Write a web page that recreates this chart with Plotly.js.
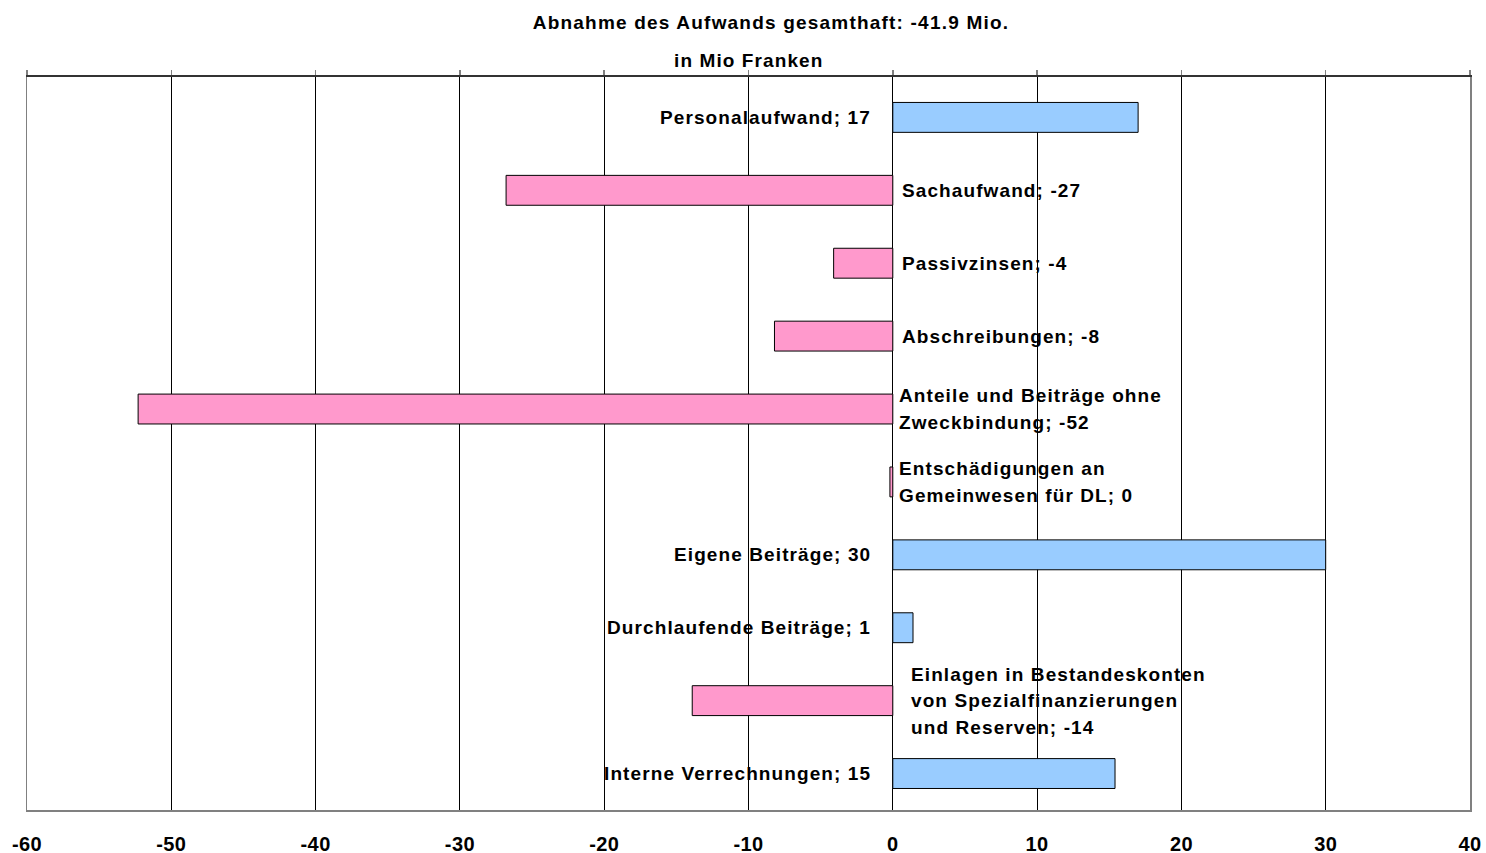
<!DOCTYPE html>
<html>
<head>
<meta charset="utf-8">
<script src="https://cdn.plot.ly/plotly-3.0.1.min.js"></script>
<style>
  html, body { margin: 0; padding: 0; background: #fff; }
  #chart { width: 1486px; height: 853px; }
  .annotation-text { letter-spacing: 1.1px; }
  .gtitle { letter-spacing: 1.2px; }
  .xtick text { letter-spacing: 0.4px; }
</style>
</head>
<body>
<div id="chart"></div>
<script>
// ---- data ----
const categories = [
  "Personalaufwand",
  "Sachaufwand",
  "Passivzinsen",
  "Abschreibungen",
  "Anteile und Beiträge ohne Zweckbindung",
  "Entschädigungen an Gemeinwesen für DL",
  "Eigene Beiträge",
  "Durchlaufende Beiträge",
  "Einlagen in Bestandeskonten von Spezialfinanzierungen und Reserven",
  "Interne Verrechnungen"
];
const labelLines = [
  ["Personalaufwand"],
  ["Sachaufwand"],
  ["Passivzinsen"],
  ["Abschreibungen"],
  ["Anteile und Beiträge ohne", "Zweckbindung"],
  ["Entschädigungen an", "Gemeinwesen für DL"],
  ["Eigene Beiträge"],
  ["Durchlaufende Beiträge"],
  ["Einlagen in Bestandeskonten", "von Spezialfinanzierungen", "und Reserven"],
  ["Interne Verrechnungen"]
];
const values = [17.0, -26.8, -4.1, -8.2, -52.3, -0.2, 30.0, 1.4, -13.9, 15.4];
const xTicks = [-60, -50, -40, -30, -20, -10, 0, 10, 20, 30, 40];
const titleText = "Abnahme des Aufwands gesamthaft: -41.9 Mio.";
const subtitleText = "in Mio Franken";

// ---- styles ----
const posColor = "#99CCFF";
const negColor = "#FF99CC";
const FONT = "Liberation Sans, Arial, sans-serif";
const lineGap = 26.5;
const extraShift = { 8: 9, 4: -3, 5: -3 }; // style offsets for wrapped labels

const bars = {
  type: "bar",
  orientation: "h",
  x: values,
  y: categories,
  marker: {
    color: values.map(v => v >= 0 ? posColor : negColor),
    line: { color: "#000", width: 1 }
  },
  hoverinfo: "skip",
  xaxis: "x",
  yaxis: "y"
};
const topAxisHolder = {
  type: "scatter", mode: "markers",
  x: [0], y: [categories[0]],
  marker: { opacity: 0 },
  hoverinfo: "skip", showlegend: false,
  xaxis: "x2", yaxis: "y"
};

const annotations = [];
categories.forEach((c, i) => {
  const v = values[i];
  const lines = labelLines[i].slice();
  let r = Math.round(v); if (Object.is(r, -0)) r = 0;
  lines[lines.length - 1] += "; " + r;
  const n = lines.length;
  lines.forEach((t, k) => {
    annotations.push({
      x: 0, y: c, xref: "x", yref: "y",
      text: "<b>" + t + "</b>",
      showarrow: false,
      xanchor: v >= 0 ? "right" : "left",
      yanchor: "middle",
      xshift: v >= 0 ? -20 : (7 + (extraShift[i] || 0)),
      yshift: ((n - 1) / 2 - k) * lineGap,
      font: { family: FONT, size: 19, color: "#000" }
    });
  });
});
annotations.push({
  x: 0.5, y: 1, xref: "paper", yref: "paper",
  text: "<b>" + subtitleText + "</b>",
  showarrow: false, xanchor: "center", yanchor: "middle", yshift: 17,
  font: { family: FONT, size: 19, color: "#000" }
});

const layout = {
  width: 1486, height: 853,
  paper_bgcolor: "#fff", plot_bgcolor: "#fff",
  margin: { l: 27, r: 16, t: 77, b: 43 },
  showlegend: false,
  bargap: 0.59,
  title: {
    text: "<b>" + titleText + "</b>",
    x: 771 / 1486, xref: "container", xanchor: "center",
    y: 1 - 22 / 853, yref: "container", yanchor: "middle",
    font: { family: FONT, size: 19, color: "#000" }
  },
  xaxis: {
    range: [-60, 40],
    tickvals: xTicks,
    ticktext: xTicks.map(t => "<b>" + t + "</b>"),
    showgrid: true, gridcolor: "#000", gridwidth: 1,
    zeroline: true, zerolinecolor: "#000", zerolinewidth: 1,
    showline: true, linecolor: "#808080", linewidth: 1.5,
    ticks: "outside", ticklen: 15, tickcolor: "rgba(0,0,0,0)",
    tickfont: { family: FONT, size: 20, color: "#000" },
    fixedrange: true
  },
  xaxis2: {
    overlaying: "x", side: "top", anchor: "y",
    range: [-60, 40], tickvals: xTicks,
    showticklabels: false, showgrid: false, zeroline: false,
    showline: true, linecolor: "#333", linewidth: 2,
    ticks: "outside", ticklen: 5, tickcolor: "#808080", tickwidth: 1.5,
    fixedrange: true
  },
  yaxis: {
    type: "category",
    autorange: "reversed",
    showticklabels: false, showgrid: false, zeroline: false,
    showline: true, mirror: true, linecolor: "#808080", linewidth: 1.5,
    ticks: "", fixedrange: true
  },
  annotations: annotations
};

Plotly.newPlot("chart", [bars, topAxisHolder], layout, { displayModeBar: false, staticPlot: true });
</script>
</body>
</html>
